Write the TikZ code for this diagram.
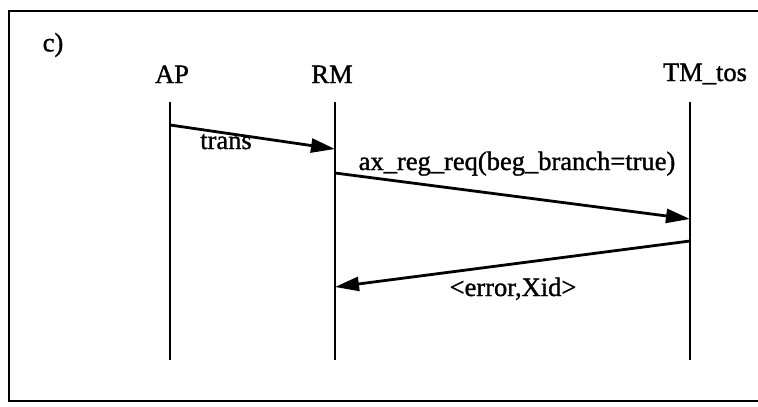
\documentclass[tikz,border=0pt]{standalone}
\usepackage{fontspec}
\setmainfont{Liberation Serif}
\newfontfamily\lblfont[FakeBold=1.2]{Liberation Serif}
\usetikzlibrary{arrows.meta}
\begin{document}
\begin{tikzpicture}[x=1pt,y=-1pt,
  lbl/.style={font=\lblfont\fontsize{26.5}{30}\selectfont, inner sep=0pt},
  life/.style={line width=2.8pt},
  msg/.style={line width=2.8pt,-{Triangle[length=24pt,width=14pt]}},
  frame/.style={line width=2.4pt}]
\useasboundingbox (0,0) rectangle (758,407);
\clip (0,0) rectangle (758,407);
\draw[frame] (780,11) -- (9,11) -- (9,401) -- (780,401);
\node[lbl] (c) at (53,45) {c)};
\node[lbl,anchor=base] (ap) at (172,83) {AP};
\node[lbl,anchor=base] (rm) at (332,83) {RM};
\node[lbl,anchor=base] (tm) at (705,81) {TM\_tos};
\coordinate (apT) at (170,102); \coordinate (apB) at (170,360);
\coordinate (rmT) at (335,102); \coordinate (rmB) at (335,360);
\coordinate (tmT) at (690,102); \coordinate (tmB) at (690,360);
\draw[life] (apT) -- (apB);
\draw[life] (rmT) -- (rmB);
\draw[life] (tmT) -- (tmB);
\coordinate (m1s) at (170,125); \coordinate (m1e) at (335,149);
\coordinate (m2s) at (335,173); \coordinate (m2e) at (690,219);
\coordinate (m3s) at (690,241); \coordinate (m3e) at (335,287);
\draw[msg] (m1s) -- (m1e);
\draw[msg] (m2s) -- (m2e);
\draw[msg] (m3s) -- (m3e);
\node[lbl,anchor=base] (l1) at (226,149) {trans};
\node[lbl,anchor=base] (l2) at (517,170) {ax\_reg\_req(beg\_branch=true)};
\node[lbl,anchor=base] (l3) at (513,296) {<error,Xid>};
\end{tikzpicture}
\end{document}
